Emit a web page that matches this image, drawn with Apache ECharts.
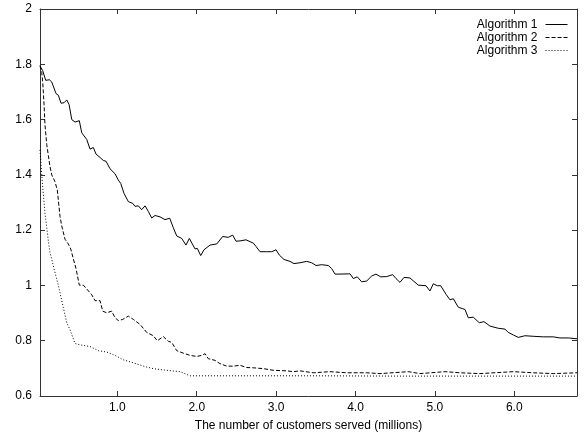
<!DOCTYPE html>
<html>
<head>
<meta charset="utf-8">
<script src="https://cdn.jsdelivr.net/npm/echarts@6/dist/echarts.min.js"></script>
<style>
html,body{margin:0;padding:0;background:#fff;}
#chart{width:584px;height:437px;}
</style>
</head>
<body>
<div id="chart"></div>
<script>
var seriesNames = ['Algorithm 1', 'Algorithm 2', 'Algorithm 3'];
var xTickValues = [1, 2, 3, 4, 5, 6];
var xAxisTitle = 'The number of customers served (millions)';

var algorithm1 = [[0.026,1.794],[0.06,1.777],[0.098,1.742],[0.144,1.744],[0.174,1.736],[0.228,1.694],[0.257,1.688],[0.291,1.659],[0.329,1.661],[0.363,1.671],[0.392,1.655],[0.426,1.600],[0.467,1.591],[0.521,1.596],[0.552,1.552],[0.615,1.528],[0.656,1.493],[0.698,1.499],[0.732,1.475],[0.782,1.463],[0.824,1.452],[0.858,1.449],[0.908,1.422],[0.971,1.404],[1.013,1.381],[1.043,1.369],[1.084,1.333],[1.139,1.303],[1.194,1.297],[1.223,1.286],[1.264,1.288],[1.307,1.274],[1.349,1.288],[1.39,1.268],[1.433,1.244],[1.475,1.253],[1.538,1.248],[1.601,1.238],[1.660,1.243],[1.705,1.209],[1.748,1.179],[1.811,1.170],[1.865,1.146],[1.907,1.170],[1.979,1.132],[2.008,1.134],[2.050,1.108],[2.092,1.129],[2.168,1.146],[2.252,1.150],[2.327,1.177],[2.398,1.174],[2.453,1.182],[2.495,1.160],[2.545,1.161],[2.621,1.165],[2.713,1.153],[2.747,1.141],[2.797,1.122],[2.882,1.122],[2.945,1.122],[2.999,1.129],[3.040,1.110],[3.099,1.094],[3.175,1.087],[3.225,1.079],[3.301,1.082],[3.385,1.087],[3.448,1.082],[3.503,1.072],[3.574,1.075],[3.657,1.072],[3.700,1.061],[3.742,1.041],[3.805,1.041],[3.931,1.042],[3.972,1.025],[4.023,1.031],[4.078,1.013],[4.141,1.016],[4.204,1.034],[4.258,1.041],[4.317,1.031],[4.393,1.032],[4.468,1.039],[4.510,1.025],[4.560,1.011],[4.611,1.029],[4.686,1.027],[4.791,1.001],[4.888,0.999],[4.938,0.980],[4.980,1.006],[5.030,0.999],[5.073,0.999],[5.140,0.968],[5.190,0.948],[5.232,0.952],[5.295,0.921],[5.379,0.913],[5.421,0.883],[5.484,0.885],[5.505,0.889],[5.559,0.865],[5.618,0.869],[5.694,0.853],[5.798,0.845],[5.883,0.842],[5.924,0.830],[5.987,0.821],[6.050,0.812],[6.134,0.818],[6.239,0.816],[6.365,0.814],[6.491,0.814],[6.575,0.810],[6.680,0.810],[6.790,0.807]];

var algorithm2 = [[0.026,1.795],[0.048,1.771],[0.060,1.736],[0.068,1.700],[0.077,1.653],[0.089,1.58],[0.111,1.51],[0.131,1.47],[0.152,1.43],[0.174,1.40],[0.215,1.375],[0.244,1.345],[0.278,1.25],[0.300,1.215],[0.341,1.167],[0.383,1.150],[0.413,1.132],[0.446,1.096],[0.480,1.061],[0.521,1.001],[0.572,1.001],[0.615,0.987],[0.678,0.966],[0.719,0.945],[0.782,0.945],[0.816,0.907],[0.866,0.901],[0.929,0.907],[0.971,0.883],[1.013,0.873],[1.068,0.877],[1.139,0.889],[1.202,0.877],[1.286,0.859],[1.370,0.830],[1.453,0.818],[1.504,0.800],[1.579,0.815],[1.642,0.798],[1.685,0.794],[1.748,0.764],[1.831,0.755],[1.916,0.747],[2.000,0.743],[2.063,0.747],[2.105,0.753],[2.146,0.735],[2.230,0.729],[2.293,0.717],[2.378,0.708],[2.461,0.708],[2.545,0.711],[2.630,0.703],[2.713,0.702],[2.839,0.699],[2.965,0.693],[3.134,0.691],[3.217,0.688],[3.301,0.691],[3.468,0.684],[3.678,0.688],[3.889,0.684],[4.141,0.684],[4.309,0.681],[4.665,0.688],[4.812,0.681],[5.127,0.688],[5.316,0.684],[5.568,0.681],[5.987,0.688],[6.239,0.684],[6.491,0.681],[6.790,0.684]];

var algorithm3 = [[0.026,1.49],[0.048,1.40],[0.068,1.33],[0.089,1.26],[0.111,1.21],[0.131,1.16],[0.152,1.12],[0.194,1.07],[0.257,1.00],[0.320,0.92],[0.363,0.865],[0.404,0.84],[0.467,0.79],[0.530,0.785],[0.656,0.779],[0.761,0.764],[0.866,0.759],[0.971,0.747],[1.076,0.731],[1.202,0.720],[1.328,0.708],[1.453,0.699],[1.622,0.693],[1.790,0.688],[1.916,0.673],[2.5,0.673],[3.5,0.673],[4.5,0.672],[5.5,0.672],[6.790,0.672]];

var chart = echarts.init(document.getElementById('chart'), null, {renderer: 'canvas'});
var font = 'Liberation Sans, Arial, sans-serif';
var axisLineStyle = {color: '#333', width: 1};
var xMin = 0.026, xMax = 6.79;

function lineSeries(name, data, type) {
  return {
    name: name,
    type: 'line',
    data: data,
    symbol: 'none',
    animation: false,
    lineStyle: {color: '#000', width: 1, type: type},
    itemStyle: {color: '#000'}
  };
}

chart.setOption({
  animation: false,
  backgroundColor: '#fff',
  grid: {left: 40, right: 7, top: 9, bottom: 34, containLabel: false},
  legend: {
    orient: 'vertical',
    right: 16,
    top: 18,
    padding: 0,
    align: 'right',
    itemWidth: 22,
    itemHeight: 10,
    itemGap: 0,
    data: seriesNames,
    itemStyle: {opacity: 0, borderWidth: 0},
    lineStyle: {width: 1},
    textStyle: {fontFamily: font, fontSize: 12, lineHeight: 13, color: '#000', padding: [0, 3, 0, 0]}
  },
  xAxis: [{
    type: 'value',
    min: xMin,
    max: xMax,
    position: 'bottom',
    name: xAxisTitle,
    nameLocation: 'middle',
    nameGap: 24,
    nameTextStyle: {fontFamily: font, fontSize: 12, color: '#000'},
    axisLine: {show: true, lineStyle: axisLineStyle},
    axisTick: {show: true, inside: true, length: 5, customValues: xTickValues, lineStyle: axisLineStyle},
    axisLabel: {show: true, customValues: xTickValues, margin: 6, fontFamily: font, fontSize: 12, color: '#000',
      formatter: function (v) { return v.toFixed(1); }},
    splitLine: {show: false}
  }, {
    type: 'value',
    min: xMin,
    max: xMax,
    position: 'top',
    axisLine: {show: true, lineStyle: axisLineStyle},
    axisTick: {show: true, inside: true, length: 5, customValues: xTickValues, lineStyle: axisLineStyle},
    axisLabel: {show: false},
    splitLine: {show: false}
  }],
  yAxis: [{
    type: 'value',
    min: 0.6,
    max: 2,
    interval: 0.2,
    position: 'left',
    axisLine: {show: true, lineStyle: axisLineStyle},
    axisTick: {show: true, inside: true, length: 5, lineStyle: axisLineStyle},
    axisLabel: {show: true, margin: 8, fontFamily: font, fontSize: 12, color: '#000'},
    splitLine: {show: false}
  }, {
    type: 'value',
    min: 0.6,
    max: 2,
    interval: 0.2,
    position: 'right',
    axisLine: {show: true, lineStyle: axisLineStyle},
    axisTick: {show: true, inside: true, length: 5, lineStyle: axisLineStyle},
    axisLabel: {show: false},
    splitLine: {show: false}
  }],
  series: [
    lineSeries(seriesNames[0], algorithm1, 'solid'),
    lineSeries(seriesNames[1], algorithm2, [4, 2]),
    lineSeries(seriesNames[2], algorithm3, [1, 2])
  ]
});
</script>
</body>
</html>
